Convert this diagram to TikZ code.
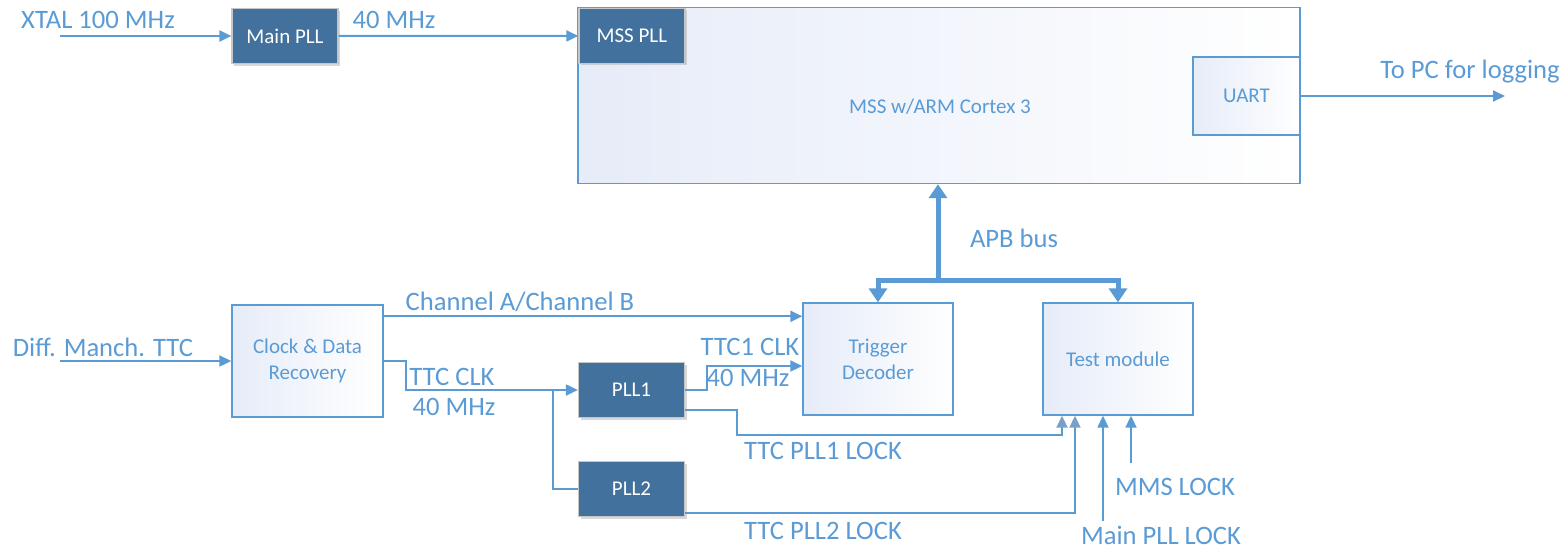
\documentclass[tikz,border=0pt]{standalone}
\usepackage{fontspec}
\setmainfont{Carlito}
\usetikzlibrary{arrows.meta,calc,positioning,shadows}
\definecolor{linkblue}{HTML}{5B9BD5}
\definecolor{pllblue}{HTML}{41719C}
\definecolor{locktip}{HTML}{7B9FCB}
\definecolor{boxtint}{HTML}{E6ECF8}

\tikzset{
  lbl/.style={text=linkblue, font=\fontsize{13.3}{15}\selectfont, inner sep=0pt},
  boxfont/.style={font=\fontsize{10.5}{13}\selectfont},
  block/.style={draw=linkblue, line width=0.7pt, left color=boxtint,
    right color=white, text=linkblue, boxfont,
    align=center, inner sep=0pt},
  pll/.style={draw=gray!45, line width=0.6pt, fill=pllblue, text=white,
    boxfont, inner sep=0pt, minimum width=53pt, minimum height=27.5pt,
    drop shadow={shadow xshift=1pt, shadow yshift=-1pt, fill=black!30, opacity=0.5}},
  wire/.style={draw=linkblue, line width=1pt, -{Triangle[length=6pt,width=5.5pt]}},
  lock/.style={-{Triangle[length=6pt,width=5.5pt,color=locktip]}},
  bus/.style={draw=linkblue, line width=2.5pt, -{Triangle[length=7pt,width=9pt]}},
}

\begin{document}
\begin{tikzpicture}[x=0.5pt, y=-0.5pt]
  \useasboundingbox (0,0) rectangle (1560,548);
  % microcontroller subsystem
  \node[block, minimum width=361pt, minimum height=88pt] (mss) at (939,95.5) {};
  \node[text=linkblue, boxfont] (msstext) at (940,107) {MSS w/ARM Cortex 3};
  \node[pll, anchor=north west] (msspll) at ($(mss.north west)+(1,1)$) {MSS PLL};
  \node[block, minimum width=53.5pt, minimum height=39pt, anchor=east] (uart)
    at (mss.east |- 0,96) {UART};
  \node[pll] (mainpll) at (285,36) {Main PLL};
  % lower blocks
  \node[block, minimum width=75pt, minimum height=56pt] (trig) at (878,359) {Trigger\\Decoder};
  \node[block, minimum width=75pt, minimum height=56pt] (test) at (1118,359) {Test module};
  \node[block, minimum width=75.5pt, minimum height=56pt] (cdr) at (307.5,361) {Clock \& Data\\Recovery};
  \node[pll] (pll1) at (631.5,390) {PLL1};
  \node[pll] (pll2) at (631.5,489) {PLL2};

  \coordinate (xtal) at (60,36);
  \coordinate (diff) at (60,361);
  \coordinate (pc) at (1505,96);
  \coordinate (apb) at (938,280);
  \coordinate (split) at (553,390);
  \coordinate (mainlock) at (1103,521);
  \coordinate (mmslock) at (1131,463);

  % clocks
  \draw[wire] (xtal) -- (mainpll);
  \draw[wire] (mainpll) -- (msspll);
  \draw[wire] (uart) -- (pc);
  \draw[wire] (diff) -- (cdr);
  \draw[wire] ($(cdr.north east)+(0,12)$) coordinate (ch) -- (ch -| trig.west);
  \draw[wire] (cdr.east) -- ++(22,0) |- (pll1.west);
  \draw[wire, -] (split) |- (pll2.west);
  \draw[wire] (pll1.east) -- ++(22,0) |- ($(trig.west)+(0,7)$);
  % lock signals
  \draw[wire, lock] ($(pll1.east)+(0,20)$) -- ++(52,0) -- ++(0,25)
    -| ($(test.south)+(-56,0)$);
  \draw[wire, lock] ($(pll2.east)+(0,24)$) -| ($(test.south)+(-43,0)$);
  \draw[wire] (mainlock) -- (mainlock |- test.south);
  \draw[wire] (mmslock) -- (mmslock |- test.south);
  % APB bus
  \draw[bus] (apb) -- (apb |- mss.south);
  \draw[bus] (apb) -| (trig.north);
  \draw[bus] (apb) -| (test.north);

  % labels
  \node[lbl] (xtallbl) at (98,20) {XTAL 100 MHz};
  \node[lbl] (mainclk) at (394,20) {40 MHz};
  \node[lbl] (pclbl) at (1470,72) {To PC for logging};
  \node[lbl] (apblbl) at (1014,238) {APB bus};
  \node[lbl] (difflbl) at (103,347) {Diff. Manch. TTC};
  \node[lbl] (chlbl) at (520,302) {Channel A/Channel B};
  \node[lbl] (ttclbl) at (452,377) {TTC CLK};
  \node[lbl] (ttcfreq) at (454,407) {40 MHz};
  \node[lbl] (ttc1lbl) at (750,347) {TTC1 CLK};
  \node[lbl] (ttc1freq) at (748,378) {40 MHz};
  \node[lbl] (lock1lbl) at (823,451) {TTC PLL1 LOCK};
  \node[lbl] (lock2lbl) at (823,531) {TTC PLL2 LOCK};
  \node[lbl] (mmslbl) at (1175,487) {MMS LOCK};
  \node[lbl] (mainlbl) at (1161,535) {Main PLL LOCK};
\end{tikzpicture}
\end{document}
